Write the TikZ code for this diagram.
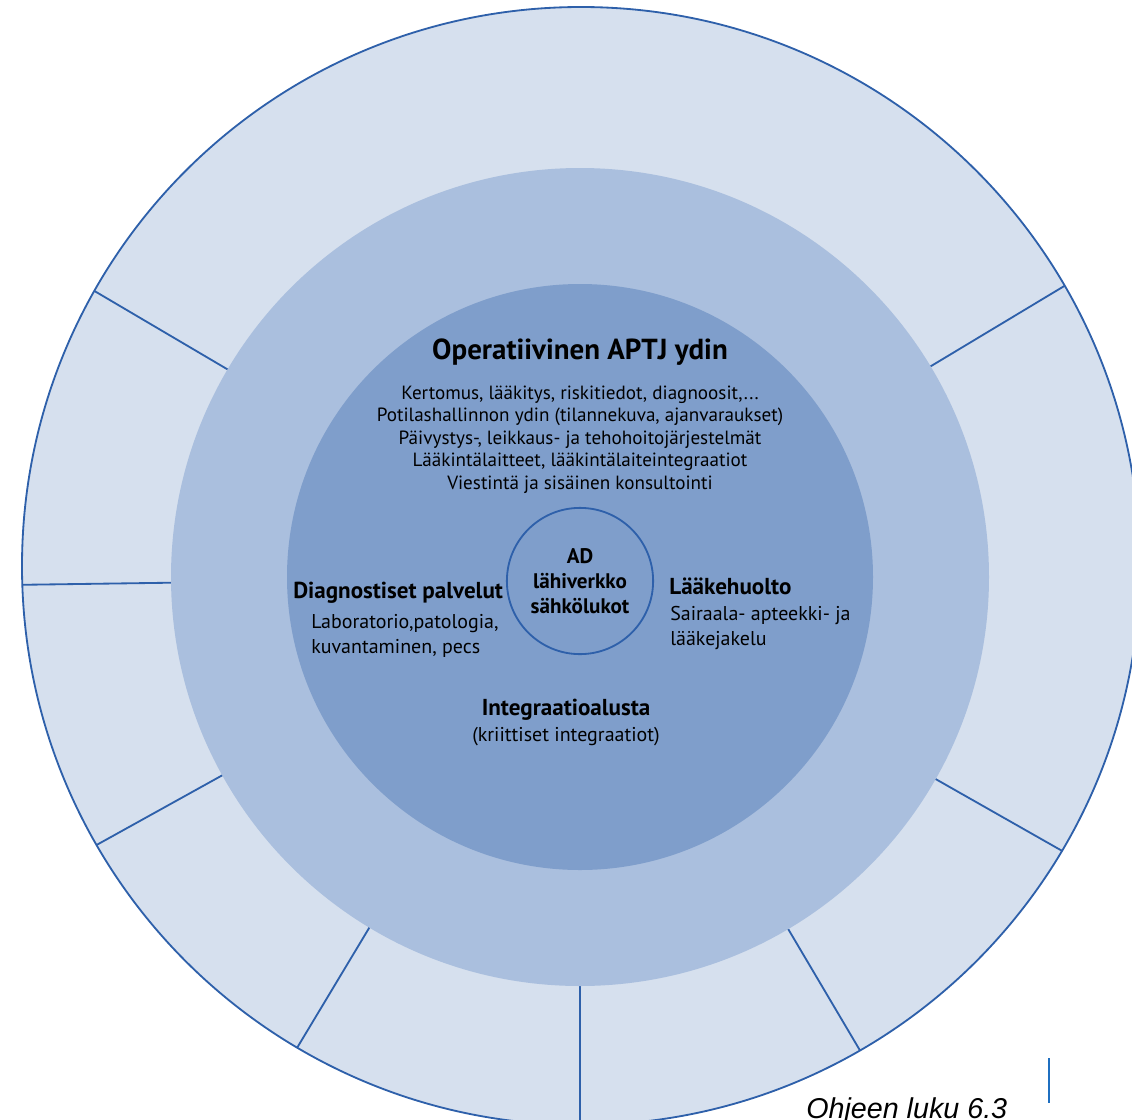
\documentclass[tikz,border=0pt]{standalone}
\usepackage{fontspec}
\setmainfont{PT Sans}
\newfontfamily\notefont{Liberation Sans}
\usetikzlibrary{positioning}
\definecolor{ringouter}{RGB}{214,224,238}
\definecolor{ringmid}{RGB}{170,191,222}
\definecolor{ringcore}{RGB}{127,158,203}
\definecolor{rimline}{RGB}{46,96,170}
\definecolor{markline}{RGB}{31,111,192}

\begin{document}
\begin{tikzpicture}[x=0.025cm,y=-0.025cm,
  rim/.style={draw=rimline,line width=1.3pt},
  head/.style={inner sep=0pt,font=\fontsize{16.4}{19}\selectfont\bfseries},
  body/.style={inner sep=0pt,font=\fontsize{14.2}{17.5}\selectfont},
  title/.style={inner sep=0pt,font=\fontsize{20.6}{24}\selectfont\bfseries}
]
\clip (0,0) rectangle (1132,1119);
\coordinate (c) at (580,577);
\coordinate (o) at (581,566);
\fill[ringouter] (o) circle (559);
\begin{scope}
  \clip (o) circle (559);
  \foreach \a in {31,149.5,180.8,209,239,270,300.6,330.4}
    \draw[rim] (c) ++(-\a:400) -- ++(-\a:300);
\end{scope}
\fill[ringmid] (c) circle (409);
\fill[ringcore] (c) circle (293);
\draw[rim] (o) circle (559);

\node[title] (core) at (580,352) {Operatiivinen APTJ ydin};
\node[body,align=center,below=4.9mm of core,
  font=\fontsize{13.6}{16.1}\selectfont] (corelist)
  {Kertomus, lääkitys, riskitiedot, diagnoosit,...\\
   Potilashallinnon ydin (tilannekuva, ajanvaraukset)\\
   Päivystys-, leikkaus- ja tehohoitojärjestelmät\\
   Lääkintälaitteet, lääkintälaiteintegraatiot\\
   Viestintä ja sisäinen konsultointi};

\node[circle,rim,minimum size=104pt,inner sep=0pt,align=center,
  font=\fontsize{15}{17.8}\selectfont\bfseries] (ad) at (580,581)
  {AD\\lähiverkko\\sähkölukot};

\node[head,anchor=west] (diag) at (293,593) {Diagnostiset palvelut};
\node[body,align=left,anchor=north west] (diaglist) at (311,614)
  {Laboratorio,patologia,\\kuvantaminen, pecs};

\node[head,anchor=west] (drug) at (669,586) {Lääkehuolto};
\node[body,align=left,anchor=north west] (druglist) at (670,606)
  {Sairaala- apteekki- ja\\lääkejakelu};

\node[head] (integ) at (566,710) {Integraatioalusta};
\node[body,below=1.5mm of integ] (integnote) {(kriittiset integraatiot)};

\node[anchor=base west,inner sep=0pt,font=\notefont\itshape\fontsize{20.4}{24}\selectfont]
  (note) at (806,1118) {Ohjeen luku 6.3};
\coordinate (m1) at (1049,1058);
\coordinate (m2) at (1049,1103);
\draw[markline,line width=1.4pt] (m1) -- (m2);
\end{tikzpicture}
\end{document}
